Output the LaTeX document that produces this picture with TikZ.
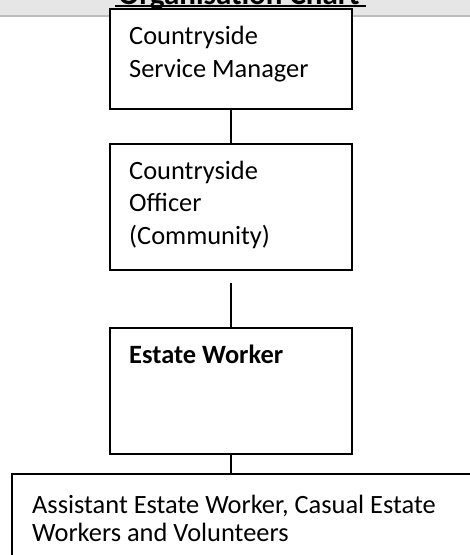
\documentclass[tikz,border=0pt]{standalone}
\usepackage{fontspec}
\setmainfont{Carlito}

\definecolor{bandgray}{HTML}{E6E6E6}
\definecolor{bandline}{HTML}{BDBDBD}

\tikzset{
  orgbox/.style={draw=black, line width=2pt, fill=white, rectangle, inner sep=0pt, anchor=north west},
  % multi-line texts are placed by the baseline of their last line
  boxtext/.style={anchor=base west, align=left, inner sep=0pt, font=\fontsize{26.4}{32.5}\selectfont},
  link/.style={line width=2pt},
}

\begin{document}
\begin{tikzpicture}[x=1pt, y=-1pt]
  \useasboundingbox (0,0) rectangle (470,555);
  \clip (0,0) rectangle (470,555);
  \fill[white] (0,0) rectangle (470,555);

  % header band with the chart title
  \fill[bandgray] (0,0) rectangle (470,15);
  \fill[bandline] (0,15) rectangle (470,17);
  \node[anchor=base, inner sep=0pt, font=\fontsize{31}{36}\selectfont\bfseries] (title) at (239,4) {Organisation Chart};
  \draw[line width=2pt] (115,5.6) -- (366,5.6);

  % boxes
  \node[orgbox, minimum width=242pt, minimum height=100pt] (mgr) at (109,7.5) {};
  \node[orgbox, minimum width=242pt, minimum height=126pt] (off) at (109,143) {};
  \node[orgbox, minimum width=242pt, minimum height=126pt] (est) at (109,327) {};
  \node[orgbox, minimum width=480pt, minimum height=120pt] (asst) at (11,473) {};

  % box texts
  \node[boxtext] (mgrtxt) at (129,77) {Countryside\\Service Manager};
  \node[boxtext] (offtxt) at (129,244) {Countryside\\Officer\\(Community)};
  \node[boxtext, font=\fontsize{26.4}{32.5}\selectfont\bfseries] (esttxt) at (129,363) {Estate Worker};
  \node[boxtext, font=\fontsize{26.4}{28.4}\selectfont] (assttxt) at (32,541.7) {Assistant Estate Worker, Casual Estate\\Workers and Volunteers};

  % connectors
  \coordinate (gapend) at (231,283);
  \draw[link] (mgr.south -| gapend) -- (off.north -| gapend);
  \draw[link] (gapend) -- (est.north -| gapend);
  \draw[link] (est.south -| gapend) -- (asst.north -| gapend);
\end{tikzpicture}
\end{document}
